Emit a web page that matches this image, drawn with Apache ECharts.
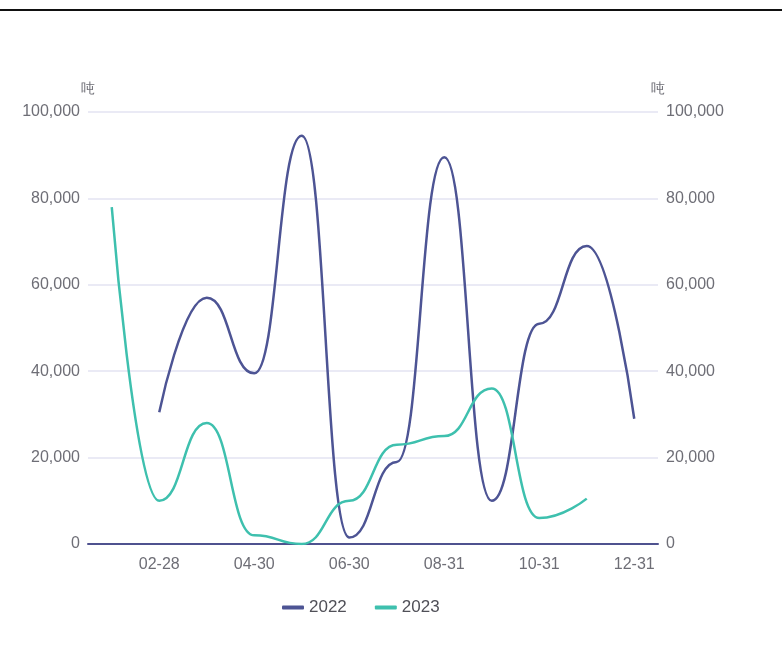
<!DOCTYPE html>
<html>
<head>
<meta charset="utf-8">
<script src="https://cdn.jsdelivr.net/npm/echarts@6/dist/echarts.min.js"></script>
<style>
  html, body { margin: 0; padding: 0; background: #fff; }
  #chart { width: 782px; height: 652px; }
</style>
</head>
<body>
<div id="chart"></div>
<script>
// Month-end dates on the category axis
const months = ['01-31', '02-28', '03-31', '04-30', '05-31', '06-30',
                '07-31', '08-31', '09-30', '10-31', '11-30', '12-31'];
// Monthly tonnage per year
const values2022 = [null, 30500, 57000, 39500, 94500, 1500, 19000, 89500, 10000, 51000, 69000, 29000];
const values2023 = [78000, 10000, 28000, 2000, 0, 10000, 23000, 25000, 36000, 6000, 10500, null];
const unitName = '吨';

const labelFont = '"Liberation Sans", Arial, sans-serif';
const labelColor = '#6e6e76';

const chart = echarts.init(document.getElementById('chart'));

function valueAxis(position) {
  return {
    type: 'value',
    position: position,
    min: 0,
    max: 100000,
    interval: 20000,
    name: unitName,
    nameGap: 16,
    nameTextStyle: { color: labelColor, fontSize: 14, align: 'center' },
    axisLine: { show: false },
    axisTick: { show: false },
    axisLabel: {
      color: labelColor,
      fontSize: 16,
      fontFamily: labelFont,
      margin: 8,
      formatter: v => v.toLocaleString('en-US')
    },
    splitLine: { lineStyle: { color: '#e9e9f4', width: 1.5 } }
  };
}

chart.setOption({
  animation: false,
  graphic: [{
    type: 'rect',
    shape: { x: 0, y: 9, width: 782, height: 2 },
    style: { fill: '#111' }
  }],
  grid: { left: 88, right: 124, top: 112, bottom: 108 },
  legend: {
    data: ['2022', '2023'],
    left: 277,
    top: 594,
    itemWidth: 22,
    itemHeight: 4,
    itemGap: 28,
    icon: 'roundRect',
    textStyle: { color: '#505058', fontSize: 17, fontFamily: labelFont }
  },
  xAxis: {
    type: 'category',
    data: months,
    boundaryGap: true,
    axisLine: { lineStyle: { color: '#4f528f', width: 2 } },
    axisTick: { show: false },
    axisLabel: {
      color: labelColor,
      fontSize: 16,
      fontFamily: labelFont,
      margin: 13,
      interval: (idx) => idx % 2 === 1
    }
  },
  yAxis: [valueAxis('left'), valueAxis('right')],
  series: [
    {
      name: '2022',
      type: 'line',
      yAxisIndex: 0,
      smooth: 0.5,
      smoothMonotone: 'x',
      showSymbol: false,
      data: values2022,
      itemStyle: { color: '#4d5494' },
      lineStyle: { color: '#4d5494', width: 2.5 }
    },
    {
      name: '2023',
      type: 'line',
      yAxisIndex: 1,
      smooth: 0.5,
      smoothMonotone: 'x',
      showSymbol: false,
      data: values2023,
      itemStyle: { color: '#3ec0ae' },
      lineStyle: { color: '#3ec0ae', width: 2.5 }
    }
  ]
});
</script>
</body>
</html>
